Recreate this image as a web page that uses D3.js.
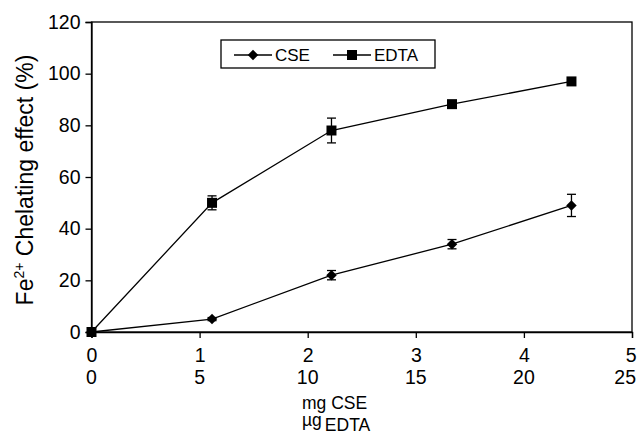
<!DOCTYPE html>
<html>
<head>
<meta charset="utf-8">
<script src="https://cdn.jsdelivr.net/npm/d3@7"></script>
<style>
  body { margin: 0; background: #fff; }
  #chart text { font-family: "Liberation Sans", Arial, sans-serif; fill: #000; }
</style>
</head>
<body>
<div id="chart"></div>
<script>
(function() {
  'use strict';

const xValues = [0, 1.115, 2.22, 3.335, 4.44];
const cseValues = [0, 5, 22, 34, 49];
const cseErrors = [0, 0.6, 1.8, 1.8, 4.3];
const edtaValues = [0, 50, 78, 88.2, 97];
const edtaErrors = [0, 2.7, 4.8, 0.8, 0.8];
const xTicksMg = [0, 1, 2, 3, 4, 5];
const xTicksUg = [0, 5, 10, 15, 20, 25];
const yTicks = [0, 20, 40, 60, 80, 100, 120];

const W = 638;
const H = 434;
const M = { top: 22, right: 6, bottom: 102, left: 91.5 };
const SW = 1.3;

const svg = d3.select("#chart")
  .append("svg")
    .attr("width", W)
    .attr("height", H);

const xScale = d3.scaleLinear()
  .domain([0, 5])
  .range([M.left, W - M.right]);

const yScale = d3.scaleLinear()
  .domain([0, 120])
  .range([H - M.bottom, M.top]);

// diamond that is as wide as it is tall
const diamond = {
  draw: function(ctx, size) {
    const r = Math.sqrt(size / 2);
    ctx.moveTo(0, -r);
    ctx.lineTo(r, 0);
    ctx.lineTo(0, r);
    ctx.lineTo(-r, 0);
    ctx.closePath();
  }
};

// frame
svg.append("rect")
  .attr("x", xScale(0))
  .attr("y", yScale(120))
  .attr("width", xScale(5) - xScale(0))
  .attr("height", yScale(0) - yScale(120))
  .attr("fill", "none")
  .attr("stroke", "#000")
  .attr("stroke-width", SW);

const yAxis = d3.axisLeft(yScale).tickValues(yTicks).tickSize(6).tickPadding(5).tickFormat(d3.format("d"));
const gy = svg.append("g")
  .attr("transform", `translate(${xScale(0)},0)`)
  .call(yAxis);
gy.select(".domain").attr("stroke-width", SW);
gy.selectAll(".tick line").attr("stroke-width", SW);
gy.selectAll(".tick text").attr("font-size", 19.5);

const xAxis = d3.axisBottom(xScale).tickValues(xTicksMg).tickSize(6).tickPadding(10).tickFormat(d3.format("d"));
const gx = svg.append("g")
  .attr("transform", `translate(0,${yScale(0)})`)
  .call(xAxis);
gx.select(".domain").attr("stroke-width", SW);
gx.selectAll(".tick line").attr("stroke-width", SW);
gx.selectAll(".tick text")
  .attr("font-size", 19.5)
  .attr("text-anchor", (d, i) => i === xTicksMg.length - 1 ? "end" : "middle")
  .attr("x", (d, i) => i === xTicksMg.length - 1 ? 4 : 0);

// second row of x labels (ug EDTA)
svg.append("g")
  .selectAll("text")
  .data(xTicksUg)
  .enter()
  .append("text")
    .attr("x", (d, i) => i === xTicksUg.length - 1 ? W - 2 : xScale(xTicksMg[i]))
    .attr("y", 384)
    .attr("text-anchor", (d, i) => i === xTicksUg.length - 1 ? "end" : "middle")
    .attr("font-size", 19.5)
    .text(d => d);

// x axis title
svg.append("text")
  .attr("x", 302).attr("y", 409)
  .attr("font-size", 17.5)
  .text("mg CSE");
const xt2 = svg.append("text")
  .attr("x", 302).attr("y", 426)
  .attr("font-size", 17.5);
xt2.append("tspan").text("µg");
xt2.append("tspan").attr("dx", 3).attr("dy", 5).text("EDTA");

// y axis title
const yt = svg.append("text")
  .attr("transform", "translate(33,180) rotate(-90)")
  .attr("text-anchor", "middle")
  .attr("font-size", 23);
yt.append("tspan").text("Fe");
yt.append("tspan").attr("dy", -9).attr("font-size", 14).text("2+");
yt.append("tspan").attr("dy", 9).text(" Chelating effect (%)");

const line = d3.line()
  .x((d, i) => xScale(xValues[i]))
  .y(d => yScale(d));

function drawSeries(values, errors, shape, size) {
  const g = svg.append("g");
  g.append("path")
    .datum(values)
    .attr("d", line)
    .attr("fill", "none")
    .attr("stroke", "#000")
    .attr("stroke-width", SW);

  values.forEach(function(v, i) {
    if (errors[i] <= 0) return;
    const x = xScale(xValues[i]);
    g.append("line")
      .attr("x1", x).attr("x2", x)
      .attr("y1", yScale(v + errors[i])).attr("y2", yScale(v - errors[i]))
      .attr("stroke", "#000").attr("stroke-width", SW);
    [v + errors[i], v - errors[i]].forEach(function(e) {
      g.append("line")
        .attr("x1", x - 4.5).attr("x2", x + 4.5)
        .attr("y1", yScale(e)).attr("y2", yScale(e))
        .attr("stroke", "#000").attr("stroke-width", SW);
    });
  });

  g.selectAll(".mark")
    .data(values)
    .enter()
    .append("path")
      .attr("transform", (d, i) => `translate(${xScale(xValues[i])},${yScale(d)})`)
      .attr("d", d3.symbol().type(shape).size(size))
      .attr("fill", "#000");
}

drawSeries(edtaValues, edtaErrors, d3.symbolSquare, 100);
drawSeries(cseValues, cseErrors, diamond, 55);

// legend
const lg = svg.append("g").attr("transform", "translate(221,40)");
lg.append("rect")
  .attr("width", 214).attr("height", 28)
  .attr("fill", "#fff").attr("stroke", "#000").attr("stroke-width", SW);
const items = [
  { name: "CSE", shape: diamond, size: 55, x: 13 },
  { name: "EDTA", shape: d3.symbolSquare, size: 100, x: 112 }
];
items.forEach(function(it) {
  lg.append("line")
    .attr("x1", it.x).attr("x2", it.x + 38)
    .attr("y1", 15).attr("y2", 15)
    .attr("stroke", "#000").attr("stroke-width", SW);
  lg.append("path")
    .attr("transform", `translate(${it.x + 19},15)`)
    .attr("d", d3.symbol().type(it.shape).size(it.size))
    .attr("fill", "#000");
  lg.append("text")
    .attr("x", it.x + 41).attr("y", 21)
    .attr("font-size", 17)
    .text(it.name);
});

})();
</script>
</body>
</html>
